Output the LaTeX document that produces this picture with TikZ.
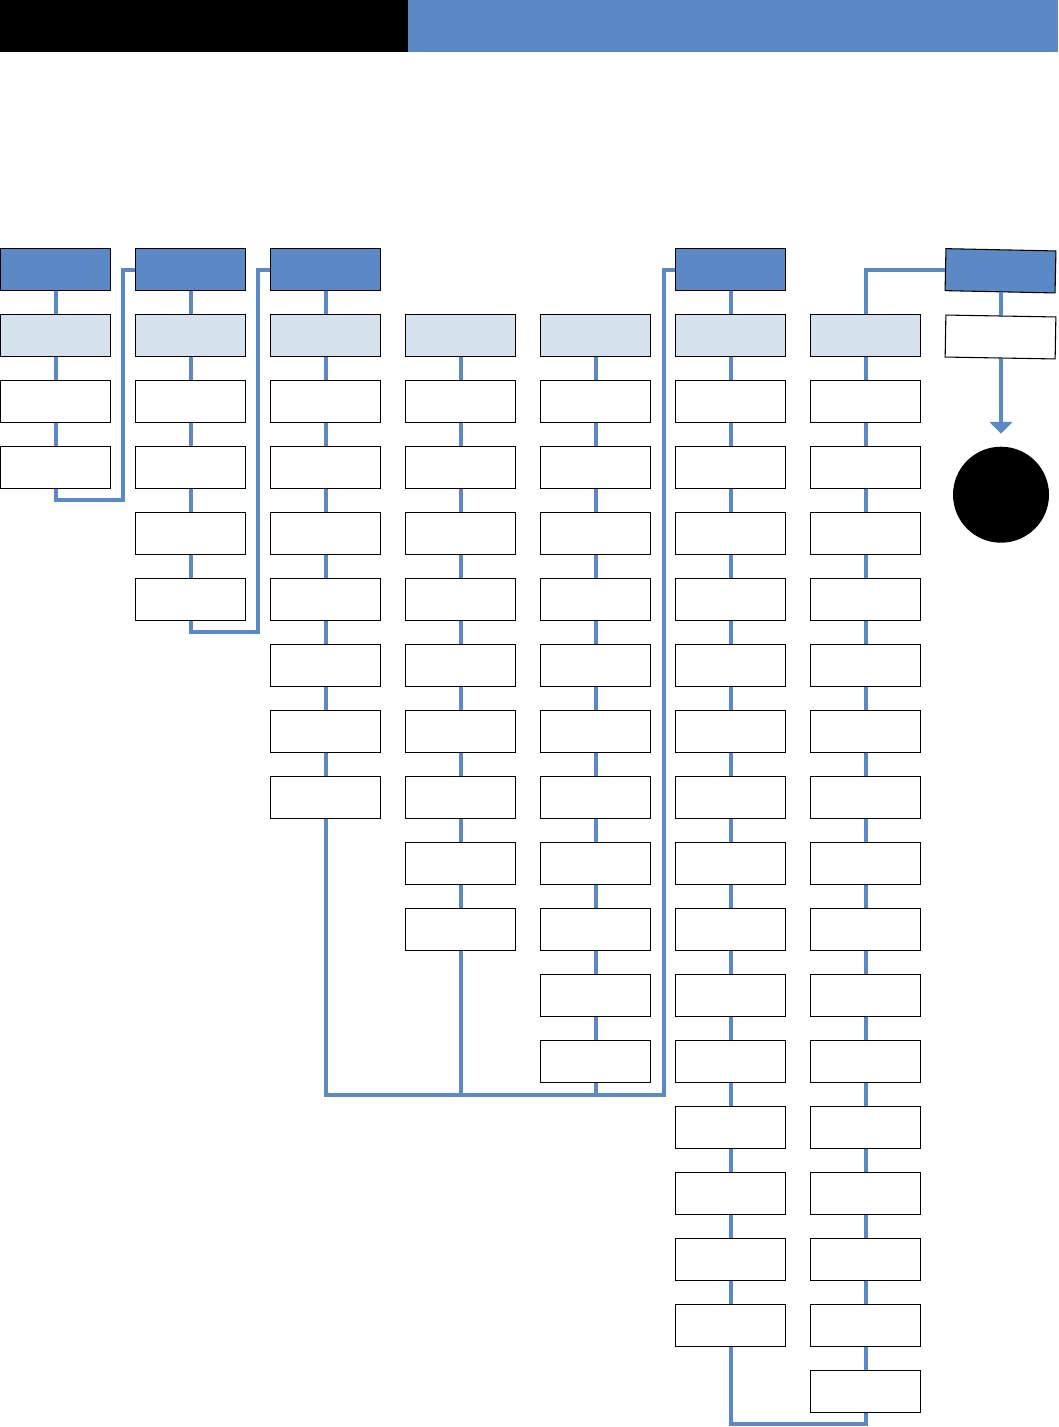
\documentclass[tikz,border=0pt]{standalone}
\usetikzlibrary{arrows.meta}
\definecolor{hdblue}{HTML}{5B89C6}
\definecolor{subblue}{HTML}{D6E1EE}
\tikzset{
  box/.style={draw=black,line width=0.8pt,minimum width=82.5pt,minimum height=31.5pt,inner sep=0pt},
  hdbox/.style={box,fill=hdblue},
  subbox/.style={box,fill=subblue},
  stepbox/.style={box,fill=white},
  link/.style={draw=hdblue,line width=3pt},
}
\begin{document}
\begin{tikzpicture}[x=0.75pt,y=-0.75pt]
\useasboundingbox (0,0) rectangle (1058,1427);
% banner
\fill[black] (0,0) rectangle (408,52);
\fill[hdblue] (408,0) rectangle (1058,52);
% boxes
\foreach \c in {0,1,2,5}
  \node[hdbox] (b-\c-0) at ({55.5+135*\c},269.5) {};
\foreach \c in {0,...,6}
  \node[subbox] (b-\c-1) at ({55.5+135*\c},335.5) {};
\foreach \c/\n in {0/3,1/5,2/8,3/10,4/12,5/16,6/17}
  \foreach \r in {2,...,\n}
    \node[stepbox] (b-\c-\r) at ({55.5+135*\c},{269.5+66*\r}) {};
\node[hdbox,rotate=-1.2] (b-7-0) at (1000.5,270.8) {};
\node[stepbox,rotate=-1] (b-7-1) at (1000.5,337) {};
\node[circle,fill=black,minimum size=72pt,inner sep=0pt] (stop) at (1001,494.7) {};
% links inside the columns
\foreach \c in {0,1,2,5}
  \draw[link] (b-\c-0.south) -- (b-\c-1.north);
\foreach \c/\n in {0/3,1/5,2/8,3/10,4/12,5/16,6/17} {
  \pgfmathtruncatemacro\m{\n-1}
  \foreach \r in {1,...,\m} {
    \pgfmathtruncatemacro\s{\r+1}
    \draw[link] (b-\c-\r.south) -- (b-\c-\s.north);
  }
}
\draw[link] (stop.north |- b-7-0.south) -- (stop.north |- b-7-1.north);
\draw[link,-{Triangle[width=17pt,length=9pt]}] (stop.north |- b-7-1.south) -- ([yshift=9.5pt]stop.north);
% links between the columns
\coordinate (j01) at (123,500);
\coordinate (j12) at (258,632);
\coordinate (merge) at (664,1095);
\coordinate (j56) at (730.5,1424);
\draw[link] (b-0-3.south) |- (j01) |- (b-1-0.west);
\draw[link] (b-1-5.south) |- (j12) |- (b-2-0.west);
\draw[link] (b-2-8.south) |- (merge) |- (b-5-0.west);
\draw[link] (b-3-10.south) -- (b-3-10.south |- merge);
\draw[link] (b-4-12.south) -- (b-4-12.south |- merge);
\draw[link] (b-5-16.south) -- (j56) -| (b-6-17.south);
\draw[link] (b-6-1.north) |- (b-7-0.west);
\end{tikzpicture}
\end{document}
